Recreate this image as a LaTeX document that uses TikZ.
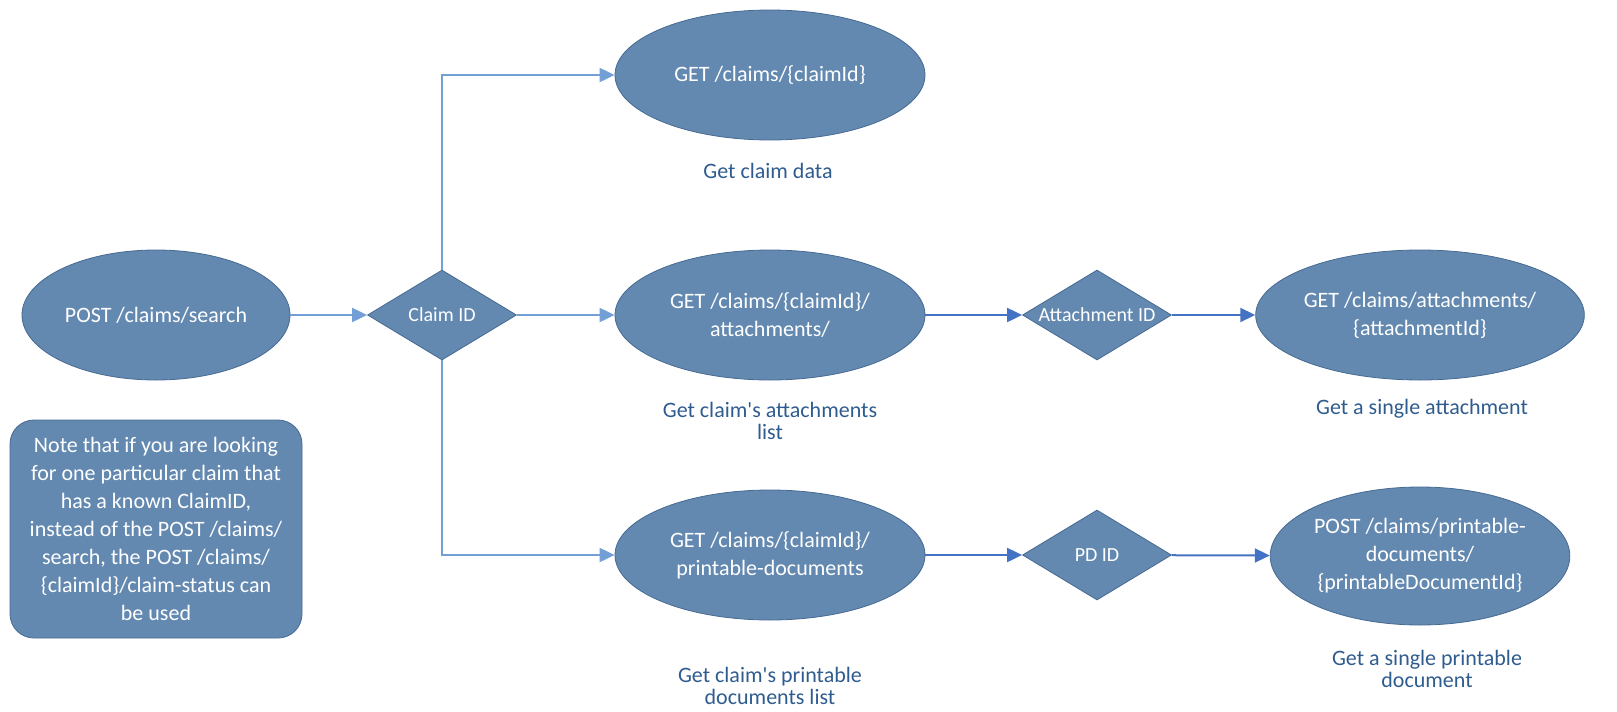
\documentclass[tikz,border=0pt]{standalone}
\usepackage{fontspec}
\setmainfont{Carlito}
\usetikzlibrary{shapes.geometric,arrows.meta}
\definecolor{shapefill}{RGB}{99,137,177}
\definecolor{shapeline}{RGB}{70,106,146}
\definecolor{captext}{RGB}{47,92,143}
\definecolor{lightarrow}{RGB}{114,160,214}
\definecolor{darkarrow}{RGB}{68,114,196}

\begin{document}
\begin{tikzpicture}[x=0.5pt,y=-0.5pt,
    endpoint/.style={ellipse, draw=shapeline, fill=shapefill, text=white, align=center,
        inner sep=0pt, minimum width=155pt, minimum height=65pt,
        font=\fontsize{11}{14}\selectfont},
    choice/.style={diamond, draw=shapeline, fill=shapefill, text=white, inner sep=0pt,
        minimum width=74.5pt, minimum height=45pt, font=\fontsize{10}{12}\selectfont},
    caption/.style={text=captext, align=center, font=\fontsize{11}{11}\selectfont},
    flow/.style={line width=1pt, -{Triangle[length=7.5pt,width=7pt]}},
    ]
    \useasboundingbox (0,0) rectangle (1617,712);

    % start and first decision
    \node[endpoint, minimum width=134pt] (search) at (156,315) {POST /claims/search};
    \node[choice, label={[text=white, font=\fontsize{10}{12}\selectfont]center:Claim ID}] (claimid) at (442,315) {};

    % claim endpoints
    \node[endpoint] (getclaim) at (770,75) {GET /claims/\{claimId\}};
    \node[caption] (getclaimtxt) at (768,171) {Get claim data};
    \node[endpoint] (getatt) at (770,315) {GET /claims/\{claimId\}/\\attachments/};
    \node[caption] (getatttxt) at (770,421) {Get claim\textquotesingle s attachments\\list};
    \node[endpoint] (getpd) at (770,555) {GET /claims/\{claimId\}/\\printable-documents};
    \node[caption] (getpdtxt) at (770,686) {Get claim\textquotesingle s printable\\documents list};

    % second decisions
    \node[choice, label={[text=white, font=\fontsize{10}{12}\selectfont]center:Attachment ID}] (attid) at (1097,315) {};
    \node[choice, label={[text=white, font=\fontsize{10}{12}\selectfont]center:PD ID}] (pdid) at (1097,555) {};

    % single items
    \node[endpoint, minimum width=148pt] (oneatt) at (1420,315) {GET /claims/attachments/\\\{attachmentId\}};
    \node[caption] (oneatttxt) at (1422,409) {Get a single attachment};
    \node[endpoint, minimum width=148pt, minimum height=69pt] (onepd) at (1420,556) {POST /claims/printable-\\documents/\\\{printableDocumentId\}};
    \node[caption] (onepdtxt) at (1427,669) {Get a single printable\\document};

    % note
    \node[draw=shapeline, fill=shapefill, text=white, rounded corners=12pt, align=center,
        minimum width=146pt, minimum height=109pt, inner sep=0pt,
        font=\fontsize{11}{14}\selectfont] (note) at (156,529)
        {Note that if you are looking\\for one particular claim that\\has a known ClaimID,\\instead of the POST /claims/\\search, the POST /claims/\\\{claimId\}/claim-status can\\be used};

    % connectors
    \draw[flow, lightarrow] (search) -- (claimid);
    \draw[flow, lightarrow] (claimid.north) |- (getclaim.west);
    \draw[flow, lightarrow] (claimid) -- (getatt);
    \draw[flow, lightarrow] (claimid.south) |- (getpd.west);
    \draw[flow, darkarrow] (getatt) -- (attid);
    \draw[flow, darkarrow] (attid) -- (oneatt);
    \draw[flow, darkarrow] (getpd) -- (pdid);
    \draw[flow, darkarrow] (pdid) -- (onepd);
\end{tikzpicture}
\end{document}
